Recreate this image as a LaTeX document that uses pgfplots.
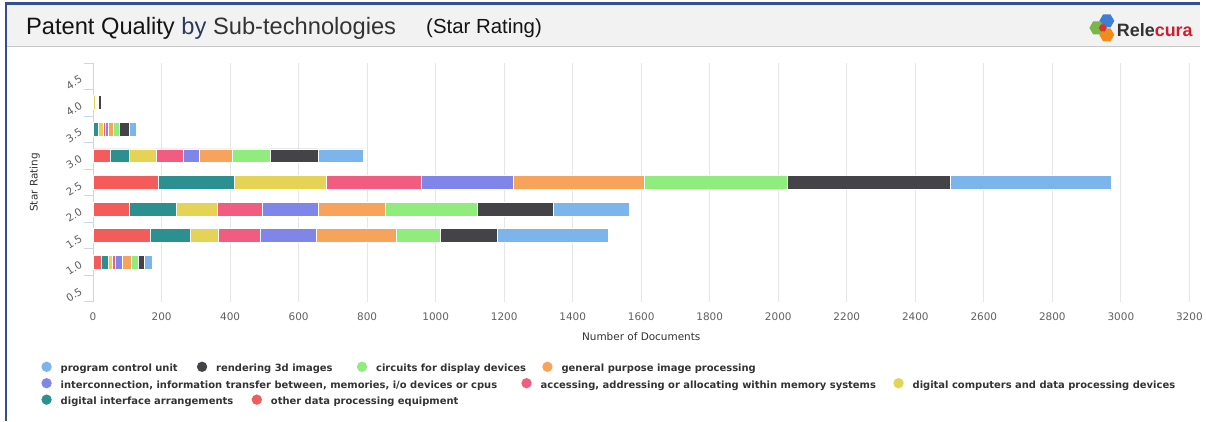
\documentclass[border=0pt]{standalone}
\usepackage{fontspec}
\setmainfont{DejaVu Sans}
\newfontfamily\arial{Liberation Sans}
\usepackage{pgfplots}
\pgfplotsset{compat=1.18}
\usetikzlibrary{shapes.geometric}
\definecolor{cRed}{HTML}{F45B5B}
\definecolor{cTeal}{HTML}{2B908F}
\definecolor{cYellow}{HTML}{E4D354}
\definecolor{cPink}{HTML}{F15C80}
\definecolor{cPurple}{HTML}{8085E9}
\definecolor{cOrange}{HTML}{F7A35C}
\definecolor{cGreen}{HTML}{90ED7D}
\definecolor{cDark}{HTML}{434348}
\definecolor{cBlue}{HTML}{7CB5EC}
\definecolor{cAxis}{HTML}{CCD6EB}
\definecolor{cGrid}{HTML}{E6E6E6}
\definecolor{cFrame}{HTML}{34508A}
\definecolor{cHead}{HTML}{F2F2F2}
\definecolor{cHeadLine}{HTML}{C8C8C8}
\definecolor{cText}{HTML}{333333}
\definecolor{cTick}{HTML}{606060}
\definecolor{cNavy}{HTML}{2B3A5C}
\definecolor{cRelRed}{HTML}{C8202E}
\definecolor{hGreen}{HTML}{7AB648}
\definecolor{hBlue}{HTML}{3D7FD6}
\definecolor{hOrange}{HTML}{F08C1E}
\definecolor{hRed}{HTML}{D9342B}
\begin{document}
\begin{tikzpicture}
\begin{scope}[x=1pt,y=-1pt]
\path[use as bounding box] (0,0) rectangle (1206,423);
\fill[white] (0,0) rectangle (1206,423);
\fill[cHead] (7,5) rectangle (1206,46.5);
\draw[cHeadLine, line width=1pt] (7,46.5) -- (1206,46.5);
\fill[cFrame] (5.5,2.5) rectangle (1206,5);
\fill[cFrame] (5.5,2.5) rectangle (7.5,423);
\node[anchor=base west, inner sep=0, font=\arial\fontsize{23.8}{26}\selectfont] at (26,34.5)
  {{\color{black!92}Patent Quality} {\color{cNavy}by} {\color{cText}Sub-technologies}};
\node[anchor=base west, inner sep=0, font=\arial\fontsize{20.5}{22}\selectfont, text=black!92] at (428,34) {(Star Rating)};
% logo
\node[regular polygon, regular polygon sides=6, minimum size=15pt, inner sep=0, fill=hBlue] at (1112,21) {};
\node[regular polygon, regular polygon sides=6, minimum size=15pt, inner sep=0, fill=hGreen] at (1102,28) {};
\node[regular polygon, regular polygon sides=6, minimum size=15pt, inner sep=0, fill=hOrange] at (1112,35) {};
\node[regular polygon, regular polygon sides=6, minimum size=8pt, inner sep=0, fill=hRed] at (1108,28) {};
\node[anchor=base west, inner sep=0, font=\arial\bfseries\fontsize{18}{20}\selectfont] at (1122,36.5)
  {{\color{cText}Rele}{\color{cRelRed}cura}};
% legend
\foreach \cx/\cy/\col/\txt in {
  46.8/371/cBlue/{program control unit},
  203/371/cDark/{rendering 3d images},
  363.7/371/cGreen/{circuits for display devices},
  550/371/cOrange/{general purpose image processing},
  46.8/387.5/cPurple/{interconnection, information transfer between, memories, i/o devices or cpus},
  529/387.5/cPink/{accessing, addressing or allocating within memory systems},
  902.7/387.5/cYellow/{digital computers and data processing devices},
  46.8/404/cTeal/{digital interface arrangements},
  258/404/cRed/{other data processing equipment}}{
  \fill[\col] (\cx,\cy-2.5) circle (5.2);
  \node[anchor=mid west, inner sep=0, font=\bfseries\fontsize{10}{12}\selectfont, text=cText] at (\cx+14,\cy) {\txt};
}
\end{scope}
\begin{axis}[
  at={(93.5pt,-303.3pt)}, anchor=south west,
  scale only axis, width=1101.5pt, height=240pt,
  xbar stacked, bar width=14pt,
  xmin=0, xmax=3200, ymin=0.25, ymax=4.75,
  xtick={0,200,...,3200},
  ytick={0.5,1,1.5,2,2.5,3,3.5,4,4.5},
  yticklabels={0.5,1.0,1.5,2.0,2.5,3.0,3.5,4.0,4.5},
  minor ytick={0.25,0.75,1.25,1.75,2.25,2.75,3.25,3.75,4.25,4.75},
  major tick length=0pt, minor tick length=9pt, tick align=outside,
  minor tick style={cAxis, line width=1pt},
  separate axis lines,
  axis x line*=bottom, axis y line*=left,
  x axis line style={draw=none},
  y axis line style={cAxis, line width=1pt},
  xmajorgrids, major x grid style={cGrid, line width=1pt},
  /pgf/number format/1000 sep={},
  /pgf/number format/assume math mode=true,
  xticklabel style={font=\fontsize{10.5}{12}\selectfont, text=cTick, yshift=-7pt},
  yticklabel style={font=\fontsize{10.5}{12}\selectfont, text=cTick, anchor=east, xshift=-9pt, rotate=32},
  xlabel={Number of Documents},
  xlabel style={at={(axis description cs:0.5,-0.145)}, anchor=center, font=\fontsize{10.5}{12}\selectfont, text=cText},
  ylabel={Star Rating},
  ylabel style={at={(axis description cs:-0.0531,0.5)}, anchor=center, font=\fontsize{10.5}{12}\selectfont, text=cText},
  every axis plot/.append style={draw=white, line width=0.8pt},
]
% other data processing equipment
\addplot[fill=cRed] coordinates {(23,1) (168,1.5) (105,2) (192,2.5) (50,3) (0,3.5) (0,4)};
% digital interface arrangements
\addplot[fill=cTeal] coordinates {(22,1) (116,1.5) (139,2) (220,2.5) (55,3) (15,3.5) (0,4)};
% digital computers and data processing devices
\addplot[fill=cYellow] coordinates {(12,1) (82,1.5) (118,2) (268,2.5) (79,3) (14,3.5) (8,4)};
% accessing, addressing or allocating within memory systems
\addplot[fill=cPink] coordinates {(9,1) (123,1.5) (132,2) (278,2.5) (79,3) (7,3.5) (2,4)};
% interconnection ...
\addplot[fill=cPurple] coordinates {(20,1) (163,1.5) (163,2) (268,2.5) (46,3) (8,3.5) (2,4)};
% general purpose image processing
\addplot[fill=cOrange] coordinates {(25,1) (232,1.5) (196,2) (383,2.5) (98,3) (14,3.5) (2,4)};
% circuits for display devices
\addplot[fill=cGreen] coordinates {(21,1) (131,1.5) (270,2) (418,2.5) (112,3) (20,3.5) (2,4)};
% rendering 3d images
\addplot[fill=cDark] coordinates {(19,1) (166,1.5) (220,2) (475,2.5) (139,3) (27,3.5) (7,4)};
% program control unit
\addplot[fill=cBlue] coordinates {(21,1) (323,1.5) (223,2) (471,2.5) (132,3) (22,3.5) (0,4)};
\end{axis}
\end{tikzpicture}
\end{document}
